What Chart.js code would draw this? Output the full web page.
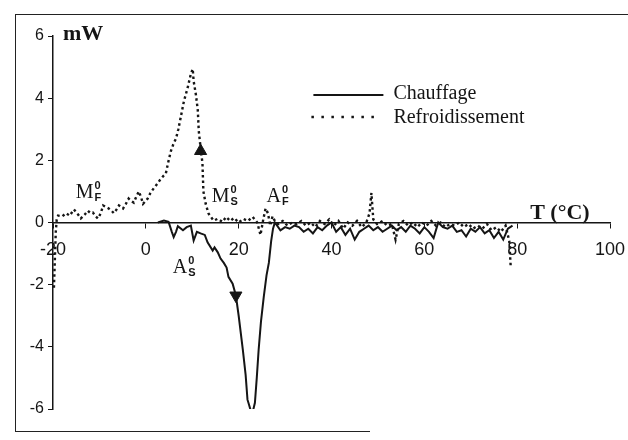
<!DOCTYPE html>
<html>
<head>
<meta charset="utf-8">
<title>DSC</title>
<script src="https://cdn.jsdelivr.net/npm/chart.js@4.4.0/dist/chart.umd.min.js"></script>
<style>
  html, body { margin: 0; padding: 0; background: #fff; overflow: hidden; }
  #wrap { position: relative; width: 628px; height: 440px; }
  #frame { position: absolute; left: 15px; top: 14px; width: 640px; height: 416px;
           border-left: 1.5px solid #222; border-top: 1.5px solid #222; }
  #frameBottom { position: absolute; left: 15px; top: 431px; width: 355px; border-top: 1.5px solid #222; }
  canvas { position: absolute; left: 0; top: 0; }
</style>
</head>
<body>
<div id="wrap">
  <div id="frame"></div>
  <div id="frameBottom"></div>
  <canvas id="dsc" width="628" height="440"></canvas>
</div>
<script>
// heating (solid) curve, T in °C and heat flow in mW
const heatT = [2.6, 3.9, 4.9, 5.6, 6.0, 6.5, 6.9, 8.0, 8.8, 9.7, 10.3, 11.0, 11.8, 12.7, 13.3, 14.4, 14.8, 15.5, 16.1, 16.8,
  17.4, 17.8, 18.7, 19.4, 20.0, 20.9, 21.5, 21.9, 22.2, 22.6, 23.1, 23.5, 23.9, 24.3, 24.8, 25.4, 26.0, 26.5, 27.0, 27.4,
  27.8, 29, 30, 31, 32, 33, 34, 35, 36, 37, 38, 39, 40, 41, 42, 43, 44, 45, 46, 47, 48, 49, 50, 51, 52, 53, 54, 55, 56,
  57, 58, 59, 60, 61, 62, 63, 64, 65, 66, 67, 68, 69, 70, 71, 72, 73, 74, 75, 76, 77, 78, 79];
const heatMW = [0, 0.06, 0.02, -0.3, -0.47, -0.3, -0.12, -0.25, -0.15, -0.1, -0.58, -0.3, -0.35, -0.4, -0.64, -0.9, -0.8, -0.96, -1.16, -1.3,
  -1.45, -1.75, -1.97, -2.35, -3.0, -4.1, -4.9, -5.7, -5.85, -6.05, -6.05, -5.8, -5.0, -4.1, -3.2, -2.4, -1.7, -1.3, -0.6, -0.2,
  0.0, -0.25, -0.15, -0.2, -0.1, -0.15, -0.3, -0.2, -0.35, -0.15, -0.25, -0.1, 0.0, -0.3, -0.15, -0.4, -0.2, -0.55, -0.3, -0.2, -0.1, -0.25, -0.15, -0.3, -0.2, -0.1, -0.25, -0.15, -0.3,
  -0.1, -0.2, -0.35, -0.15, -0.3, -0.5, 0.0, -0.15, -0.2, -0.1, -0.3, -0.25, -0.45, -0.2, -0.3, -0.15, -0.35, -0.25, -0.5, -0.3, -0.55, -0.2, -0.1];

// cooling (dotted) curve
const coolT = [-19.8, -19.6, -19.4, -19.2, -18.9, -18.0, -17.2, -16.4, -15.5, -14.8, -14.0, -13.2, -12.5, -11.9, -11.4, -10.8, -10.3, -9.7, -9.2, -8.6,
  -8.0, -7.4, -6.9, -6.3, -5.8, -5.3, -4.9, -4.3, -3.7, -3.2, -2.6, -2.0, -1.5, -1.0, -0.6, 0.0, 0.4, 1.0, 1.7, 2.5,
  3.2, 3.8, 4.3, 4.9, 5.4, 6.0, 6.5, 7.0, 7.5, 8.2, 9.0, 9.7, 10.1, 10.3, 10.8, 11.2, 11.4, 11.8, 12.2, 12.4,
  12.9, 13.5, 14.6, 15.5, 16.5, 17.3, 18.2, 19.0, 20.0, 21.0, 22.0, 23.0, 24.0, 24.7, 25.3, 25.8, 26.3, 26.8, 27.3, 27.8,
  28.5, 29.5, 30.5, 31.5, 32.5, 33.5, 34.5, 35.5, 36.5, 37.5, 38.5, 39.5, 40.5, 41.5, 42.5, 43.5, 44.5, 45.5, 46.5, 47.5,
  48.2, 48.6, 49.0, 49.8, 51.0, 52.0, 53.0, 53.8, 54.5, 55.5, 56.5, 57.5, 58.5, 59.5, 60.5, 61.5, 62.5, 63.5, 64.5, 65.5,
  66.5, 67.5, 68.5, 69.5, 70.5, 71.5, 72.5, 73.5, 74.5, 75.5, 76.5, 77.5, 78.3, 78.6];
const coolMW = [-2.1, -1.2, -0.3, 0.1, 0.22, 0.2, 0.3, 0.22, 0.42, 0.3, 0.13, 0.25, 0.38, 0.3, 0.32, 0.2, 0.13, 0.3, 0.55, 0.5,
  0.45, 0.38, 0.3, 0.42, 0.55, 0.5, 0.45, 0.6, 0.77, 0.7, 0.64, 0.85, 1.0, 0.8, 0.6, 0.7, 0.77, 0.95, 1.1, 1.25,
  1.4, 1.5, 1.57, 1.99, 2.3, 2.55, 2.7, 3.0, 3.37, 3.9, 4.33, 4.78, 4.94, 4.55, 4.1, 3.6, 2.95, 2.4, 1.9, 1.0,
  0.6, 0.29, 0.06, 0.12, 0.02, 0.18, 0.05, 0.15, 0.0, 0.12, 0.05, 0.18, 0.0, -0.4, 0.1, 0.45, 0.3, -0.1, 0.2, 0.05,
  -0.05, 0.05, -0.1, 0.0, -0.05, 0.05, -0.1, 0.0, -0.15, 0.05, -0.05, 0.1, -0.1, 0.05, -0.2, 0.0, -0.1, 0.05, -0.15, 0.0,
  0.3, 0.95, 0.1, -0.05, 0.05, -0.1, -0.05, -0.55, -0.05, 0.05, -0.1, 0.0, -0.15, 0.0, -0.1, 0.05, -0.1, 0.0, -0.15, -0.05,
  -0.1, 0.0, -0.15, -0.05, -0.2, -0.1, -0.2, -0.05, -0.25, -0.15, -0.3, -0.1, -0.6, -1.4];

// direction arrows (up on cooling, down on heating)
const arrowT = [11.8, 19.4];
const arrowMW = [2.3, -2.35];
const arrowTurn = [0, 180];

const xTicks = [-20, 0, 20, 40, 60, 80, 100];
const yTicks = [-6, -4, -2, 0, 2, 4, 6];

// transformation point labels: letter, subscript, anchor (T, mW)
const phaseLetter = ['M', 'M', 'A', 'A'];
const phaseSub = ['F', 'S', 'F', 'S'];
const phaseT = [-15.1, 14.2, 26.0, 5.8];
const phaseMW = [0.8, 0.67, 0.67, -1.63];

const ink = '#151515';
const pts = (xs, ys) => xs.map((t, i) => ({ x: t, y: ys[i] }));

const decor = {
  id: 'decor',
  afterDraw(chart) {
    const { ctx, scales: { x, y } } = chart;
    ctx.save();
    ctx.fillStyle = ink;
    ctx.strokeStyle = ink;
    ctx.textBaseline = 'alphabetic';

    ctx.font = 'bold 22px "Liberation Serif"';
    ctx.fillText('mW', x.left + 10, y.top + 4);
    ctx.fillText('T (°C)', x.getPixelForValue(82.8), y.getPixelForValue(0) - 4);

    // legend
    const lx = x.getPixelForValue(36.1), lw = 70;
    ctx.lineWidth = 1.8;
    ctx.beginPath();
    ctx.moveTo(lx, 95); ctx.lineTo(lx + lw, 95);
    ctx.stroke();
    ctx.lineWidth = 2.6;
    ctx.setLineDash([2.5, 7.5]);
    ctx.beginPath();
    ctx.moveTo(lx - 2, 117); ctx.lineTo(lx + lw - 2, 117);
    ctx.stroke();
    ctx.setLineDash([]);
    ctx.font = '20px "Liberation Serif"';
    ctx.fillText('Chauffage', lx + 80, 99);
    ctx.fillText('Refroidissement', lx + 80, 123);

    phaseLetter.forEach((letter, i) => {
      const px = x.getPixelForValue(phaseT[i]);
      const py = y.getPixelForValue(phaseMW[i]);
      ctx.font = '20px "Liberation Serif"';
      ctx.fillText(letter, px, py);
      const w = ctx.measureText(letter).width;
      ctx.font = 'bold 11px "Liberation Sans"';
      ctx.fillText('0', px + w + 1, py - 9);
      ctx.fillText(phaseSub[i], px + w + 1, py + 3);
    });
    ctx.restore();
  }
};

new Chart(document.getElementById('dsc'), {
  type: 'scatter',
  data: {
    datasets: [
      {
        label: 'Chauffage',
        data: pts(heatT, heatMW),
        showLine: true,
        borderColor: ink,
        borderWidth: 2,
        pointRadius: 0,
        tension: 0
      },
      {
        label: 'Refroidissement',
        data: pts(coolT, coolMW),
        showLine: true,
        borderColor: ink,
        borderWidth: 2.4,
        borderDash: [2.5, 3],
        pointRadius: 0,
        tension: 0
      },
      {
        label: 'arrows',
        data: pts(arrowT, arrowMW),
        pointStyle: 'triangle',
        rotation: arrowTurn,
        pointRadius: 7,
        backgroundColor: ink,
        borderColor: ink,
        borderWidth: 1
      }
    ]
  },
  options: {
    responsive: false,
    animation: false,
    layout: { padding: { left: 15, right: 18, top: 36, bottom: 31 } },
    plugins: { legend: { display: false }, tooltip: { enabled: false } },
    scales: {
      x: {
        type: 'linear',
        position: { y: 0 },
        min: -20,
        max: 100,
        afterBuildTicks: (s) => { s.ticks = xTicks.map(v => ({ value: v })); },
        afterFit: (s) => { s.paddingLeft = 0; s.paddingRight = 0; },
        grid: { drawOnChartArea: false, drawTicks: true, tickLength: 5, color: ink },
        border: { color: ink, width: 1.5 },
        ticks: { color: ink, padding: 12, maxRotation: 0, font: { family: '"Liberation Sans"', size: 18 } }
      },
      y: {
        type: 'linear',
        min: -6,
        max: 6,
        afterBuildTicks: (s) => { s.ticks = yTicks.map(v => ({ value: v })); },
        afterFit: (s) => { s.width = 38; },
        grid: { drawOnChartArea: false, drawTicks: true, tickLength: 5, color: ink },
        border: { color: ink, width: 1.5 },
        ticks: { color: ink, padding: 4, font: { family: '"Liberation Sans"', size: 16 } }
      }
    }
  },
  plugins: [decor]
});
</script>
</body>
</html>
